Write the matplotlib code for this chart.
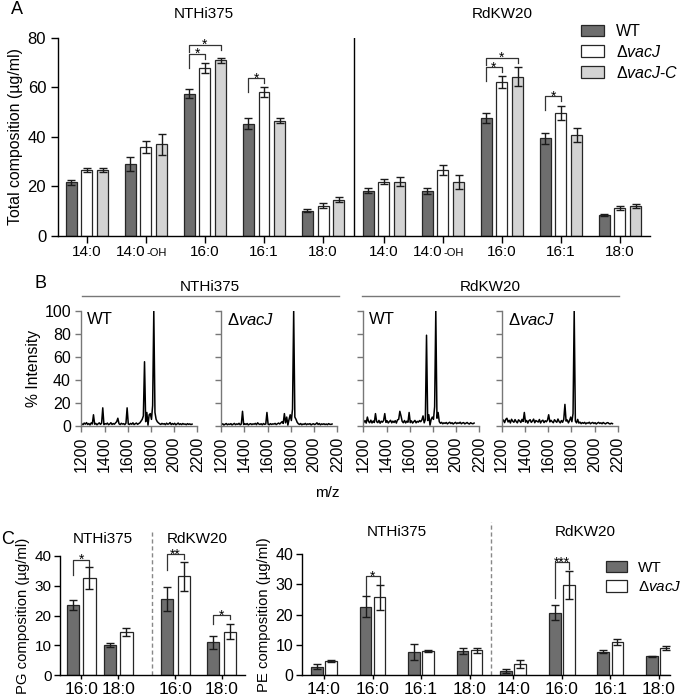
import numpy as np
import matplotlib
matplotlib.use('Agg')
import matplotlib.pyplot as plt
from matplotlib.patches import Patch

plt.rcParams['font.family'] = ['Liberation Sans', 'DejaVu Sans']
plt.rcParams['mathtext.fontset'] = 'custom'
plt.rcParams['mathtext.rm'] = 'Liberation Sans'
plt.rcParams['mathtext.it'] = 'Liberation Sans:italic'

# ---------------- data ----------------
# panel A: total fatty acid composition (ug/ml)
a_labels = ['14:0', '14:0-OH', '16:0', '16:1', '18:0']
a_wt = [21.5, 29.0, 57.5, 45.3, 10.0, 18.2, 18.0, 47.6, 39.3, 8.3]
a_wt_err = [1.0, 3.0, 2.0, 2.2, 0.6, 1.0, 1.2, 2.2, 2.2, 0.6]
a_vacj = [26.5, 35.8, 67.9, 58.0, 12.0, 21.8, 26.6, 62.1, 49.6, 11.2]
a_vacj_err = [0.7, 2.5, 2.0, 2.0, 1.0, 1.0, 2.0, 2.4, 2.8, 0.7]
a_comp = [26.6, 37.0, 70.9, 46.5, 14.4, 21.7, 21.6, 64.4, 40.7, 11.9]
a_comp_err = [0.8, 4.2, 1.2, 1.0, 1.0, 1.8, 2.8, 3.8, 2.7, 0.7]

# panel B: MALDI spectra, m/z grid and % intensity
mz = np.arange(1205, 2160, 10)
spec_nthi_wt = [2.1, 1.4, 2.8, 1.9, 3.2, 1.6, 2.4, 1.2, 2.9, 2.0,
                10.0, 1.8, 2.5, 1.3, 2.2, 3.0, 1.7, 2.6, 16.0, 1.5,
                2.3, 1.9, 2.8, 1.4, 2.0, 3.1, 1.6, 2.4, 1.8, 2.9,
                4.0, 7.0, 2.2, 1.5, 2.6, 1.9, 2.3, 1.4, 2.7, 16.0,
                2.0, 1.6, 2.5, 1.8, 3.0, 1.5, 2.2, 2.8, 1.7, 2.4,
                3.0, 4.5, 6.0, 9.0, 56.0, 4.0, 12.0, 1.0, 10.0, 11.0,
                6.0, 18.0, 100.0, 12.0, 6.0, 4.0, 3.0, 2.2, 1.6, 2.5,
                1.9, 2.3, 1.4, 2.7, 1.8, 2.1, 3.2, 1.5, 2.4, 1.7,
                2.6, 1.3, 2.0, 2.8, 1.6, 2.2, 1.5, 2.4, 1.8, 2.0,
                1.4, 2.3, 1.7, 2.1, 1.5, 1.9]
spec_nthi_vacj = [1.5, 2.2, 1.1, 1.8, 2.4, 1.3, 2.0, 1.6, 2.3, 1.2,
                  1.9, 2.5, 1.4, 2.1, 1.7, 2.6, 1.3, 2.0, 13.0, 1.5,
                  2.2, 1.6, 2.4, 1.2, 1.9, 2.3, 1.5, 2.1, 1.8, 2.5,
                  1.4, 3.0, 2.0, 1.6, 2.2, 1.3, 2.4, 1.7, 2.0, 12.0,
                  1.8, 1.4, 2.3, 1.6, 2.1, 1.9, 2.5, 1.5, 2.2, 2.8,
                  2.0, 3.0, 4.0, 2.5, 11.0, 3.0, 8.0, 1.0, 6.0, 10.0,
                  5.0, 15.0, 100.0, 8.0, 6.0, 3.5, 2.2, 1.6, 2.4, 1.3,
                  2.0, 1.7, 2.5, 1.4, 2.1, 1.8, 2.3, 1.2, 1.9, 2.2,
                  1.5, 2.0, 3.0, 1.6, 2.4, 1.3, 2.1, 1.7, 2.2, 1.5,
                  2.0, 1.4, 2.3, 1.8, 1.6, 2.0]
spec_rd_wt = [3.5, 5.0, 2.8, 8.0, 4.2, 3.1, 5.3, 2.9, 4.6, 3.3,
              11.0, 4.0, 3.2, 5.1, 2.7, 4.4, 3.6, 5.0, 11.0, 3.4,
              4.8, 2.9, 4.1, 5.2, 3.0, 4.5, 3.3, 4.9, 2.8, 5.6,
              6.0, 13.0, 9.0, 4.3, 3.1, 5.0, 2.9, 4.4, 3.5, 12.0,
              3.2, 4.7, 2.8, 4.0, 5.1, 3.0, 4.3, 3.6, 5.0, 4.0,
              5.5, 9.0, 3.0, 6.0, 79.0, 5.0, 10.0, 1.0, 6.0, 8.0,
              6.0, 17.0, 100.0, 7.0, 12.0, 4.0, 2.6, 3.4, 2.2, 3.0,
              2.5, 3.3, 2.1, 2.9, 3.5, 2.4, 3.1, 2.0, 2.8, 3.4,
              2.3, 3.0, 2.6, 3.5, 2.2, 2.9, 3.2, 2.1, 2.7, 3.3,
              2.4, 2.0, 3.1, 2.5, 2.2, 2.8]
spec_rd_vacj = [4.0, 5.5, 3.2, 6.0, 7.0, 3.8, 5.2, 2.9, 6.1, 4.4,
                3.5, 5.8, 4.1, 3.0, 5.6, 4.7, 3.3, 6.0, 4.2, 12.0,
                3.6, 5.1, 2.8, 4.9, 5.7, 3.4, 4.5, 6.2, 3.1, 5.0,
                4.3, 3.7, 5.9, 2.9, 4.6, 5.3, 3.2, 4.8, 3.9, 5.4,
                10.0, 3.8, 5.2, 4.0, 3.1, 5.7, 4.4, 3.5, 6.3, 4.1,
                3.0, 5.0, 3.5, 6.0, 19.0, 4.5, 5.5, 3.0, 5.0, 8.0,
                4.0, 11.0, 100.0, 4.5, 3.0, 6.0, 2.8, 3.6, 2.3, 3.2,
                2.6, 3.4, 2.1, 3.0, 2.7, 3.5, 2.2, 2.9, 3.3, 2.4,
                3.1, 2.0, 2.8, 3.4, 2.5, 3.0, 2.2, 3.3, 2.6, 2.1,
                2.9, 3.2, 2.4, 2.0, 2.7, 2.3]

# panel C: PG and PE composition (ug/ml)
pg_labels = ['16:0', '18:0', '16:0', '18:0']
pg_wt = [23.5, 10.1, 25.5, 11.1]
pg_wt_err = [1.7, 0.7, 4.0, 2.2]
pg_vacj = [32.5, 14.6, 33.1, 14.6]
pg_vacj_err = [3.6, 1.3, 4.9, 2.6]

pe_labels = ['14:0', '16:0', '16:1', '18:0', '14:0', '16:0', '16:1', '18:0']
pe_wt = [2.9, 22.6, 7.6, 7.9, 1.4, 20.7, 7.8, 6.2]
pe_wt_err = [0.7, 3.4, 2.7, 1.0, 0.7, 2.4, 0.4, 0.15]
pe_vacj = [4.7, 25.7, 8.0, 8.2, 3.7, 29.8, 10.9, 9.0]
pe_vacj_err = [0.3, 4.1, 0.3, 0.7, 1.2, 4.6, 1.0, 0.6]

# ---------------- layout ----------------
W, H = 685, 695
fig = plt.figure(figsize=(W / 100, H / 100), dpi=100)
c_wt, c_vacj, c_comp = '#6e6e6e', 'white', '#d3d3d3'
edge = '#262626'


def px_axes(l, t, r, b):
    return fig.add_axes([l / W, 1 - b / H, (r - l) / W, (b - t) / H])


def ftext(x, y, s, **kw):
    fig.text(x / W, 1 - y / H, s, **kw)


def style(ax, color='black'):
    for s in ['top', 'right']:
        ax.spines[s].set_visible(False)
    for s in ['left', 'bottom']:
        ax.spines[s].set_linewidth(1.0)
        ax.spines[s].set_color(color)
    ax.tick_params(direction='out', length=4, width=1.0, color=color)


def bracket(ax, x1, x2, y, y1, y2, stars, fs=10):
    ax.plot([x1, x1, x2, x2], [y1, y, y, y2], color='#333333', lw=0.9, clip_on=False)
    ax.annotate(stars, xy=((x1 + x2) / 2, y), xytext=(0, -3.2), textcoords='offset points',
                ha='center', va='baseline', fontsize=fs, annotation_clip=False)


def bars(ax, x, vals, errs, color, w):
    ax.bar(x, vals, width=w, color=color, edgecolor=edge, linewidth=0.9, zorder=2)
    ax.errorbar(x, vals, yerr=errs, fmt='none', ecolor='#1a1a1a', elinewidth=1.0,
                capsize=3, capthick=1.0, zorder=3)


# ---------------- panel A ----------------
axA = px_axes(58, 38, 650, 235.5)
style(axA)
axA.tick_params(length=5)
gx = np.r_[np.arange(5), np.arange(5) + 5.03]
step, bw = 0.266, 0.186
bars(axA, gx - step, a_wt, a_wt_err, c_wt, bw)
bars(axA, gx, a_vacj, a_vacj_err, c_vacj, bw)
bars(axA, gx + step, a_comp, a_comp_err, c_comp, bw)
axA.set_xlim(-0.49, 9.54)
axA.set_ylim(0, 80)
axA.set_yticks([0, 20, 40, 60, 80])
axA.tick_params(axis='y', labelsize=12)
axA.set_xticks(gx)
axA.set_xticklabels([])
for xo, lab in zip(gx, a_labels * 2):
    if lab == '14:0-OH':
        axA.annotate('14:0', xy=(xo, 0), xycoords=('data', 'axes fraction'),
                     xytext=(0, -15), textcoords='offset points', ha='right', va='baseline', fontsize=11)
        axA.annotate('-OH', xy=(xo, 0), xycoords=('data', 'axes fraction'),
                     xytext=(0.3, -15), textcoords='offset points', ha='left', va='baseline', fontsize=8)
    else:
        axA.annotate(lab, xy=(xo, 0), xycoords=('data', 'axes fraction'),
                     xytext=(0, -15), textcoords='offset points', ha='center', va='baseline', fontsize=11)
axA.axvline(4.525, ymin=0, ymax=1, color='black', lw=1.0)
axA.set_ylabel('Total composition (µg/ml)', fontsize=11.4, labelpad=3)
bracket(axA, 2 - step, 2, 73.6, 67.8, 71.6, '*')
bracket(axA, 2 - step, 2 + step, 77.3, 74.3, 75.0, '*')
bracket(axA, 3 - step, 3, 63.7, 58.0, 61.8, '*')
bracket(axA, 7.03 - step, 7.03, 68.2, 62.5, 66.4, '*')
bracket(axA, 7.03 - step, 7.03 + step, 72.0, 69.2, 70.0, '*')
bracket(axA, 8.03 - step, 8.03, 56.4, 50.8, 54.6, '*')

ftext(17, 10, 'A', fontsize=13, ha='center', va='center')
ftext(204, 14, 'NTHi375', fontsize=11, ha='center', va='center')
ftext(502, 14, 'RdKW20', fontsize=11, ha='center', va='center')

handles = [Patch(facecolor=c, edgecolor=edge, linewidth=0.9) for c in (c_wt, c_vacj, c_comp)]
fig.legend(handles, ['WT', 'Δ$\\mathit{vacJ}$', 'Δ$\\mathit{vacJ}$-$\\mathit{C}$'],
           loc='upper left', bbox_to_anchor=(581 / W, 1 - 24 / H), frameon=False,
           fontsize=11.5, handlelength=1.45, handleheight=0.75, labelspacing=0.3,
           handletextpad=0.75, borderaxespad=0, borderpad=0)

# ---------------- panel B ----------------
spectra = [spec_nthi_wt, spec_nthi_vacj, spec_rd_wt, spec_rd_vacj]
names = ['WT', 'Δ$\\mathit{vacJ}$', 'WT', 'Δ$\\mathit{vacJ}$']
xs = [(81.3, 197.3), (221, 337.3), (363.3, 479.3), (501.7, 617.7)]
for i, (spec, name, (l, r)) in enumerate(zip(spectra, names, xs)):
    ax = px_axes(l, 311, r, 426.3)
    style(ax, color='#777777')
    ax.plot(mz, spec, color='black', lw=1.1)
    ax.set_xlim(1200, 2200)
    ax.set_ylim(0, 100)
    ax.set_xticks(range(1200, 2201, 200))
    ax.set_xticklabels([str(v) for v in range(1200, 2201, 200)], rotation=90, fontsize=11.5)
    ax.set_yticks(range(0, 101, 20))
    if i == 0:
        ax.tick_params(axis='y', labelsize=11.5)
        ax.set_ylabel('% Intensity', fontsize=11.3, labelpad=2)
    else:
        ax.set_yticklabels([])
    ax.text(0.05, 0.99, name, transform=ax.transAxes, ha='left', va='top', fontsize=12)

ftext(40, 284, 'B', fontsize=13, ha='center', va='center')
ftext(210, 287, 'NTHi375', fontsize=11, ha='center', va='center')
ftext(490, 287, 'RdKW20', fontsize=11, ha='center', va='center')
for l, r in [(82, 339), (362, 619)]:
    fig.add_artist(plt.Line2D([l / W, r / W], [1 - 296 / H] * 2, color='#777777', lw=1.0))
ftext(327, 493, 'm/z', fontsize=11, ha='center', va='center')

# ---------------- panel C: PG ----------------
axPG = px_axes(60, 555.7, 245, 675.3)
style(axPG)
axPG.tick_params(axis='x', length=3, pad=1.5)
px_pg = np.array([0, 1, 2.55, 3.8])
off, bw2 = 0.225, 0.33
bars(axPG, px_pg - off, pg_wt, pg_wt_err, c_wt, bw2)
bars(axPG, px_pg + off, pg_vacj, pg_vacj_err, c_vacj, bw2)
axPG.set_xlim(-0.57, 4.43)
axPG.set_ylim(0, 40)
axPG.set_yticks([0, 10, 20, 30, 40])
axPG.tick_params(axis='y', labelsize=11, pad=2)
axPG.set_xticks(px_pg)
axPG.set_xticklabels(pg_labels, fontsize=12.5)
axPG.set_ylabel('PG composition (µg/ml)', fontsize=10.7, labelpad=3)
axPG.plot([1.91, 1.91], [0, 47.9], color='#888888', lw=1.0, ls=(0, (3, 2)), clip_on=False)
bracket(axPG, 0 - off, 0 + off, 38.7, 33.5, 36.5, '*')
bracket(axPG, 2.55 - off, 2.55 + off, 40.6, 35.3, 38.8, '**')
bracket(axPG, 3.8 - off, 3.8 + off, 20.2, 17.2, 18.7, '*')

ftext(8, 539, 'C', fontsize=13, ha='center', va='center')
ftext(103, 539, 'NTHi375', fontsize=11, ha='center', va='center')
ftext(197, 539, 'RdKW20', fontsize=11, ha='center', va='center')

# ---------------- panel C: PE ----------------
axPE = px_axes(301.7, 554, 670, 675.3)
style(axPE)
axPE.tick_params(axis='x', length=3, pad=1.5)
px_pe = np.array([0, 1, 2, 3, 3.9, 4.9, 5.9, 6.9])
off3, bw3 = 0.145, 0.24
bars(axPE, px_pe - off3, pe_wt, pe_wt_err, c_wt, bw3)
bars(axPE, px_pe + off3, pe_vacj, pe_vacj_err, c_vacj, bw3)
axPE.set_xlim(-0.46, 7.13)
axPE.set_ylim(0, 40)
axPE.set_yticks([0, 10, 20, 30, 40])
axPE.tick_params(axis='y', labelsize=11.5, pad=2)
axPE.set_xticks(px_pe)
axPE.set_xticklabels(pe_labels, fontsize=12.5)
axPE.set_ylabel('PE composition (µg/ml)', fontsize=10.7, labelpad=3)
axPE.plot([3.44, 3.44], [0, 50.5], color='#888888', lw=1.0, ls=(0, (3, 2)), clip_on=False)
bracket(axPE, 1 - off3, 1 + off3, 32.6, 26.4, 30.1, '*')
bracket(axPE, 4.9 - off3, 4.9 + off3, 37.3, 25.5, 35.0, '***')

ftext(397, 532, 'NTHi375', fontsize=11, ha='center', va='center')
ftext(585, 532, 'RdKW20', fontsize=11, ha='center', va='center')
fig.legend(handles[:2], ['WT', 'Δ$\\mathit{vacJ}$'],
           loc='upper left', bbox_to_anchor=(606 / W, 1 - 561 / H), frameon=False,
           fontsize=11, handlelength=1.4, handleheight=0.75, labelspacing=0.35,
           handletextpad=0.7, borderaxespad=0, borderpad=0)

fig.savefig('out.png', dpi=100)
